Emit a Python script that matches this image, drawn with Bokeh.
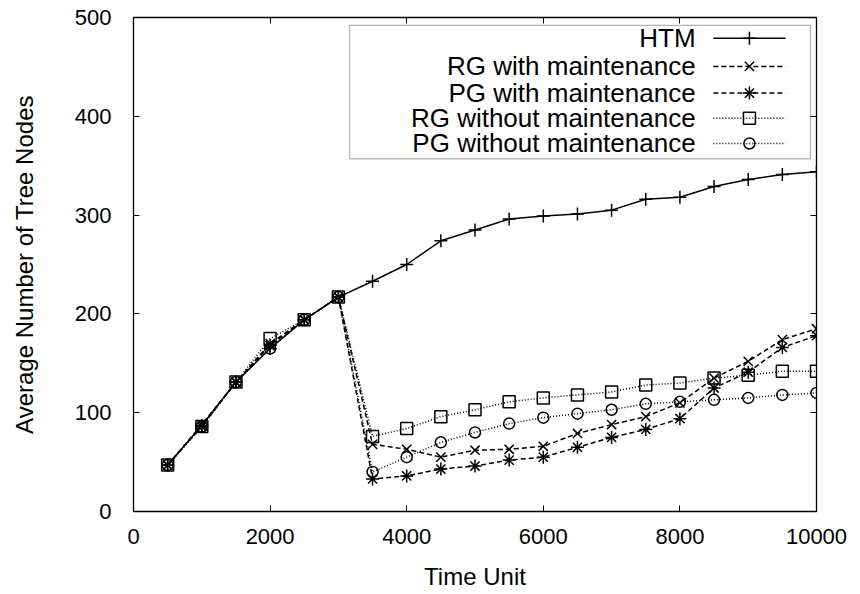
from bokeh.plotting import figure
from bokeh.models import Range1d, LinearAxis, FixedTicker, CustomJSTickFormatter, Label, BoxAnnotation
from bokeh.embed import file_html
from bokeh.resources import INLINE

# ---------------- data ----------------
time_units = [500, 1000, 1500, 2000, 2500, 3000, 3500, 4000, 4500, 5000,
              5500, 6000, 6500, 7000, 7500, 8000, 8500, 9000, 9500, 10000]
htm = [47, 87, 131, 165, 194, 217, 233, 250, 274, 285,
       296, 299, 301, 305, 316, 318, 329, 336, 341, 344]
rg_with = [47, 88, 131, 170, 194, 217, 68, 63, 55, 62,
           63, 66, 79, 88, 96, 110, 135, 152, 174, 185]
pg_with = [47, 86, 131, 168, 194, 217, 33, 36, 43, 46,
           52, 55, 65, 75, 83, 94, 125, 141, 166, 178]
rg_without = [47, 86, 131, 175, 194, 217, 76, 84, 96, 103,
              111, 115, 118, 121, 128, 130, 135, 138, 142, 142]
pg_without = [47, 86, 131, 165, 194, 217, 40, 55, 70, 80,
              89, 95, 99, 103, 109, 111, 113, 115, 118, 120]

series_names = ["HTM", "RG with maintenance", "PG with maintenance",
                "RG without maintenance", "PG without maintenance"]
x_ticks = [0, 2000, 4000, 6000, 8000, 10000]
y_ticks = [0, 100, 200, 300, 400, 500]

FONT = "Liberation Sans"
FS = "22px"
LABEL_FS = "24px"
LEGEND_FS = "26px"

p = figure(width=852, height=594, x_range=Range1d(0, 10000), y_range=Range1d(0, 500),
           output_backend="svg", toolbar_location=None,
           min_border_left=133, min_border_right=36, min_border_top=17, min_border_bottom=83)
p.grid.visible = False
p.outline_line_color = "black"
p.outline_line_width = 1.3
p.outline_line_alpha = 1.0
p.background_fill_color = "white"

def style_axis(ax, ticks):
    ax.ticker = FixedTicker(ticks=ticks)
    ax.axis_line_color = None
    ax.major_tick_in = 6
    ax.major_tick_out = 0
    ax.major_tick_line_color = "black"
    ax.major_tick_line_width = 1
    ax.minor_tick_line_color = None
    ax.major_label_text_font = FONT
    ax.major_label_text_font_size = FS
    ax.major_label_text_color = "black"
    ax.axis_label_text_font = FONT
    ax.axis_label_text_font_size = LABEL_FS
    ax.axis_label_text_font_style = "normal"
    ax.axis_label_text_color = "black"

style_axis(p.xaxis[0], x_ticks)
style_axis(p.yaxis[0], y_ticks)
p.xaxis[0].axis_label = "Time Unit"
p.yaxis[0].axis_label = "Average Number of Tree Nodes"
p.xaxis[0].major_label_standoff = 17
p.xaxis[0].axis_label_standoff = 16
p.yaxis[0].major_label_standoff = 22
p.yaxis[0].axis_label_standoff = 34

for loc, ticks in (("right", y_ticks), ("above", x_ticks)):
    ax = LinearAxis()
    style_axis(ax, ticks)
    ax.formatter = CustomJSTickFormatter(code="return ''")
    ax.major_label_text_font_size = "1px"
    ax.major_label_standoff = 0
    p.add_layout(ax, loc)

# ---------------- series ----------------
styles = [
    (htm, "solid", "cross", 13),
    (rg_with, "5 3", "x", 13),
    (pg_with, "5 3", "asterisk", 13),
    (rg_without, "1 2", "square", 12),
    (pg_without, "1 2", "circle", 11),
]
for ys, dash, marker, size in styles:
    p.line(time_units, ys, line_color="black", line_width=1.5, line_dash=dash)
    p.scatter(time_units, ys, marker=marker, size=size, line_color="black",
              fill_color=None, line_width=1.5)

# ---------------- legend (gnuplot style: text right, sample on the right) ----------------
p.add_layout(BoxAnnotation(left=3163, right=9912, top=492, bottom=357,
                           fill_color="white", fill_alpha=1.0, line_color="black",
                           line_width=1.3, level="underlay"))
row_y = [479, 450.5, 423.5, 398, 372.5]
for (ys, dash, marker, size), name, ry in zip(styles, series_names, row_y):
    p.add_layout(Label(x=8230, y=ry, text=name, text_align="right", text_baseline="middle",
                       text_font=FONT, text_font_size=LEGEND_FS, text_color="black"))
    p.line([8490, 9546], [ry, ry], line_color="black", line_width=1.5, line_dash=dash)
    p.scatter([9018], [ry], marker=marker, size=size, line_color="black",
              fill_color=None, line_width=1.5)

open("out.html", "w").write(file_html(p, INLINE))
